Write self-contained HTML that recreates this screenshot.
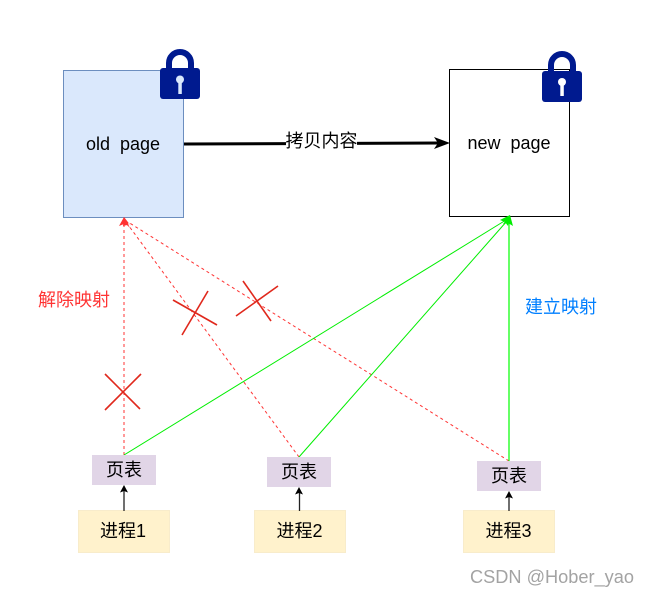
<!DOCTYPE html>
<html>
<head>
<meta charset="utf-8">
<style>
html,body{margin:0;padding:0;background:#fff;}
svg{display:block;}
text{font-family:"Liberation Sans","Noto Sans CJK SC",sans-serif;font-size:18px;fill:#000;text-anchor:middle;}
</style>
</head>
<body>
<svg width="648" height="596" viewBox="0 0 648 596" xmlns="http://www.w3.org/2000/svg">
<!-- pages -->
<rect x="63.5" y="70.5" width="120" height="147" fill="#dae8fc" stroke="#6c8ebf" stroke-width="1"/>
<rect x="449.5" y="69.5" width="120" height="147" fill="#fff" stroke="#000" stroke-width="1"/>
<text x="123" y="150">old&#160;&#160;page</text>
<text x="509" y="149">new&#160;&#160;page</text>

<!-- copy arrow -->
<line x1="184" y1="144" x2="440" y2="143" stroke="#000" stroke-width="3"/>
<path d="M450 143 L434 137 L438 143 L434 149 Z" fill="#000"/>
<rect x="286" y="131" width="71" height="24" fill="#fff"/>
<text x="321.5" y="147">拷贝内容</text>

<!-- red dashed -->
<g stroke="#ff3333" stroke-width="1" stroke-dasharray="3 3" fill="none">
<line x1="124" y1="455" x2="124" y2="223"/>
<line x1="299" y1="457" x2="126" y2="222"/>
<line x1="509" y1="461" x2="128" y2="222"/>
</g>
<path d="M124 217 L119 226 L124 224 L129 226 Z" fill="#ff3333"/>
<path d="M124 217 L123 226 L127 225 L130 228 Z" fill="#ff3333"/>
<path d="M124 217 L125 225 L129 223 L131 226 Z" fill="#ff3333"/>

<!-- green -->
<g stroke="#00ee00" stroke-width="1" fill="none">
<line x1="124" y1="455" x2="506" y2="220"/>
<line x1="299" y1="457" x2="507" y2="221"/>
</g>
<line x1="509" y1="461" x2="509" y2="221" stroke="#00ff00" stroke-width="1.2" fill="none"/>
<path d="M510 215 L500 220 L505 222 L508 226 Z" fill="#00ee00"/>
<path d="M510 215 L503 224 L508 223 L513 226 Z" fill="#00ee00"/>

<!-- crosses -->
<g stroke="#e0281c" stroke-width="1.6" fill="none">
<line x1="105" y1="374" x2="140" y2="409"/>
<line x1="105" y1="410" x2="141" y2="374"/>
<line x1="173" y1="300" x2="217" y2="325"/>
<line x1="208" y1="291" x2="182" y2="335"/>
<line x1="243" y1="281" x2="271" y2="321"/>
<line x1="278" y1="286" x2="236" y2="316"/>
</g>

<!-- labels -->
<text x="74" y="306" style="fill:#ff3333">解除映射</text>
<text x="561" y="313" style="fill:#007fff">建立映射</text>

<!-- page tables -->
<rect x="92" y="455" width="64" height="30" fill="#e1d5e7"/>
<rect x="267" y="457" width="64" height="30" fill="#e1d5e7"/>
<rect x="477" y="461" width="64" height="30" fill="#e1d5e7"/>
<text x="124" y="476">页表</text>
<text x="299" y="478">页表</text>
<text x="509" y="482">页表</text>

<!-- processes -->
<rect x="78.5" y="510.5" width="91" height="42" fill="#fff2cc" stroke="#f8eccb" stroke-width="1"/>
<rect x="254.5" y="510.5" width="91" height="42" fill="#fff2cc" stroke="#f8eccb" stroke-width="1"/>
<rect x="463.5" y="510.5" width="91" height="42" fill="#fff2cc" stroke="#f8eccb" stroke-width="1"/>
<text x="123" y="537">进程1</text>
<text x="299.5" y="537">进程2</text>
<text x="508.5" y="537">进程3</text>

<!-- small arrows -->
<g stroke="#222" stroke-width="1.3" fill="none">
<line x1="124" y1="511" x2="124" y2="490"/>
<line x1="299.5" y1="511" x2="299.5" y2="492"/>
<line x1="509" y1="511" x2="509" y2="496"/>
</g>
<path d="M124 485 L120 492.5 L124 491 L128 492.5 Z" fill="#000"/>
<path d="M299 487 L295 494.5 L299 493 L303 494.5 Z" fill="#000"/>
<path d="M509 491 L505 498.5 L509 497 L513 498.5 Z" fill="#000"/>

<!-- locks -->
<g>
<path d="M169 69 V63 A11 11 0 0 1 191 63 V69" fill="none" stroke="#001a8f" stroke-width="6"/>
<rect x="160" y="68" width="40" height="31" rx="3" fill="#001a8f"/>
<circle cx="180" cy="79.5" r="4" fill="#dae8fc"/>
<rect x="178.3" y="80" width="3.5" height="14" fill="#dae8fc"/>
</g>
<g>
<path d="M551 72 V65 A11 11 0 0 1 573 65 V72" fill="none" stroke="#001a8f" stroke-width="6"/>
<rect x="542" y="71" width="40" height="31" rx="3" fill="#001a8f"/>
<circle cx="562" cy="82" r="4" fill="#fff"/>
<rect x="560.3" y="82" width="3.5" height="14" fill="#fff"/>
</g>

<!-- watermark -->
<text x="552" y="583" style="fill:#a3a3a3;font-size:18.2px">CSDN @Hober_yao</text>
</svg>
</body>
</html>
